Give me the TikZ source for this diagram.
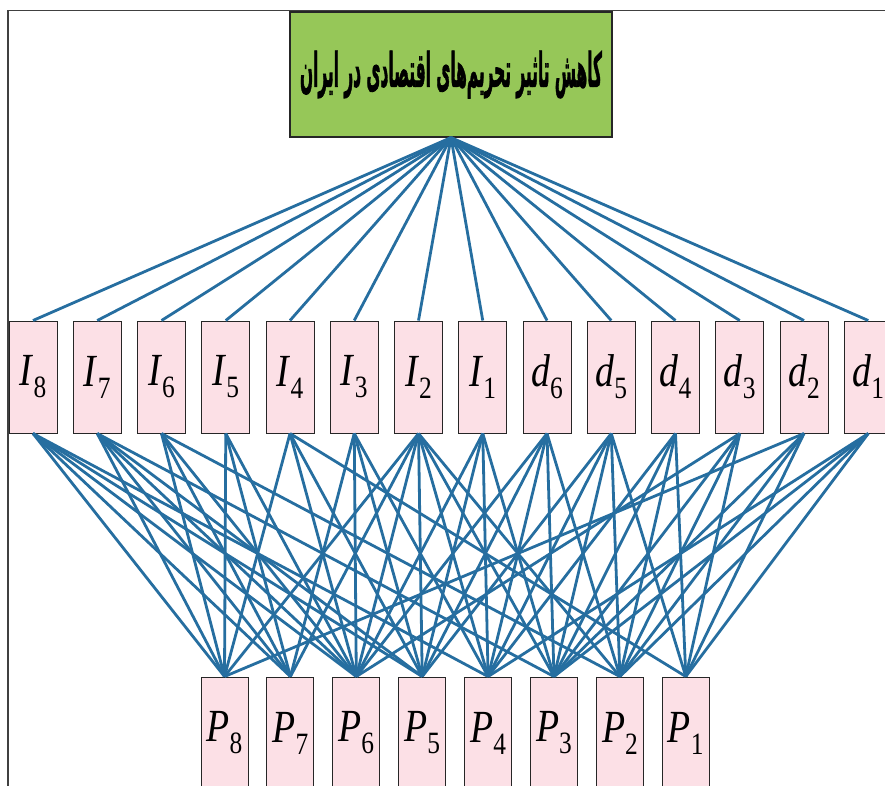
\documentclass[tikz,border=0pt]{standalone}
\usepackage{fontspec}
\setmainfont{Liberation Serif}
\newfontfamily\arabicfont[Script=Arabic,FakeBold=2]{DejaVu Sans Bold}
\TeXXeTstate=1
\definecolor{linkblue}{RGB}{38,110,160}
\definecolor{boxgreen}{RGB}{150,199,88}
\definecolor{boxpink}{RGB}{252,224,230}
\newcommand\nlab[2]{\scalebox{0.82}[1]{\fontsize{46}{46}\selectfont\textit{#1}\raisebox{-12pt}{\fontsize{31}{31}\selectfont #2}}}
\tikzset{
  link/.style={draw=linkblue,line width=2.8pt},
  midbox/.style={draw=black!85,line width=1pt,fill=boxpink,minimum width=48pt,minimum height=112pt,inner sep=0pt},
  botbox/.style={draw=black!85,line width=1pt,fill=boxpink,minimum width=47pt,minimum height=112pt,inner sep=0pt},
  topbox/.style={draw=black!85,line width=1.2pt,fill=boxgreen,minimum width=322pt,minimum height=125pt,inner sep=0pt},
  frame/.style={draw=black!75,line width=1.6pt}
}
\begin{document}
\begin{tikzpicture}[x=1pt,y=-1pt]
\useasboundingbox (0,0) rectangle (885,785);
\clip (0,0) rectangle (885,785);
\coordinate (fa) at (8,900);
\coordinate (fb) at (8,10.5);
\coordinate (fc) at (900,10.5);
\draw[frame] (fa) -- (fb) -- (fc);
\node[topbox] (goal) at (451,74.5) {\resizebox{302pt}{36pt}{\arabicfont\beginR کاهش تاثیر تحریم‌های اقتصادی در ایران\endR}};
\foreach \n/\t/\s [count=\k from 0] in {I8/I/8,I7/I/7,I6/I/6,I5/I/5,I4/I/4,I3/I/3,I2/I/2,I1/I/1,d6/d/6,d5/d/5,d4/d/4,d3/d/3,d2/d/2,d1/d/1}
  \node[midbox] (\n) at ({33+64.25*\k},377) {\nlab{\t}{\s}};
\foreach \n/\s [count=\k from 0] in {P8/8,P7/7,P6/6,P5/5,P4/4,P3/3,P2/2,P1/1}
  \node[botbox] (\n) at ({224.5+65.9*\k},733) {\nlab{P}{\s}};
\foreach \n in {I8,I7,I6,I5,I4,I3,I2,I1,d6,d5,d4,d3,d2,d1}
  \draw[link] (goal.south) -- (\n.north);
\foreach \a/\b in {I8/P8,I8/P7,I8/P6,I8/P5,I8/P4,
  I7/P8,I7/P7,I7/P6,I7/P5,I7/P3,
  I6/P8,I6/P7,I6/P6,I6/P2,
  I5/P8,I5/P7,I5/P6,
  I4/P8,I4/P6,I4/P5,I4/P1,
  I3/P7,I3/P6,I3/P5,I3/P4,
  I2/P8,I2/P7,I2/P6,I2/P5,I2/P4,I2/P3,I2/P2,
  I1/P6,I1/P5,I1/P4,I1/P3,
  d6/P6,d6/P5,d6/P4,d6/P3,d6/P2,
  d5/P5,d5/P4,d5/P3,d5/P2,d5/P1,
  d4/P4,d4/P3,d4/P2,d4/P1,
  d3/P6,d3/P3,d3/P2,d3/P1,
  d2/P8,d2/P3,d2/P2,d2/P1,
  d1/P4,d1/P3,d1/P2,d1/P1}
  \draw[link] (\a.south) -- (\b.north);
\end{tikzpicture}
\end{document}
